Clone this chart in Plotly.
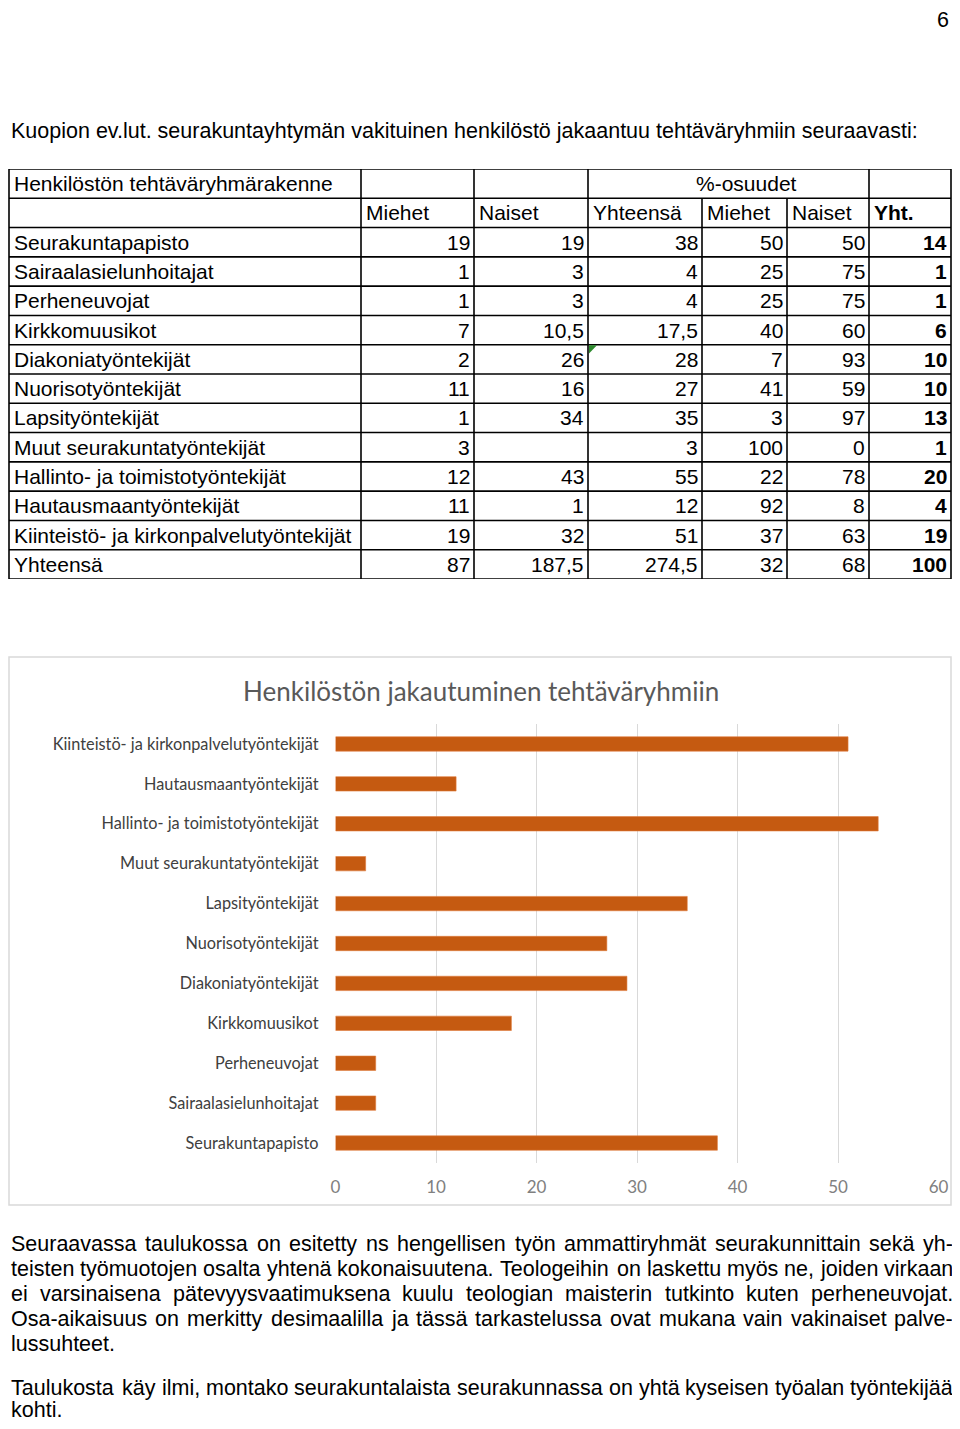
import plotly.graph_objects as go

# ---- table data ----
groups = [
    "Seurakuntapapisto", "Sairaalasielunhoitajat", "Perheneuvojat", "Kirkkomuusikot",
    "Diakoniatyöntekijät", "Nuorisotyöntekijät", "Lapsityöntekijät",
    "Muut seurakuntatyöntekijät", "Hallinto- ja toimistotyöntekijät",
    "Hautausmaantyöntekijät", "Kiinteistö- ja kirkonpalvelutyöntekijät", "Yhteensä",
]
miehet = ["19", "1", "1", "7", "2", "11", "1", "3", "12", "11", "19", "87"]
naiset = ["19", "3", "3", "10,5", "26", "16", "34", "", "43", "1", "32", "187,5"]
yhteensa = ["38", "4", "4", "17,5", "28", "27", "35", "3", "55", "12", "51", "274,5"]
miehet_pct = ["50", "25", "25", "40", "7", "41", "3", "100", "22", "92", "37", "32"]
naiset_pct = ["50", "75", "75", "60", "93", "59", "97", "0", "78", "8", "63", "68"]
yht_pct = ["14", "1", "1", "6", "10", "10", "13", "1", "20", "4", "19", "100"]
sub_headers = ["Miehet", "Naiset", "Yhteensä", "Miehet", "Naiset", "Yht."]

# ---- chart data (as drawn in the bar chart) ----
chart_groups = groups[:11]
chart_values = [38, 4, 4, 17.5, 29, 27, 35, 3, 54, 12, 51]
x_ticks = [0, 10, 20, 30, 40, 50, 60]

intro = "Kuopion ev.lut. seurakuntayhtymän vakituinen henkilöstö jakaantuu tehtäväryhmiin seuraavasti:"
para1 = [
    "Seuraavassa taulukossa on esitetty ns hengellisen työn ammattiryhmät seurakunnittain sekä yh-",
    "teisten työmuotojen osalta yhtenä kokonaisuutena. Teologeihin on laskettu myös ne, joiden virkaan",
    "ei varsinaisena pätevyysvaatimuksena kuulu teologian maisterin tutkinto kuten perheneuvojat.",
    "Osa-aikaisuus on merkitty desimaalilla ja tässä tarkastelussa ovat mukana vain vakinaiset palve-",
    "lussuhteet.",
]
para2 = [
    "Taulukosta käy ilmi, montako seurakuntalaista seurakunnassa on yhtä kyseisen työalan työntekijää",
    "kohti.",
]

# page is 960x1429; the plot sits inside the page's 8px body margin,
# so the figure is sized to the visible body box
PAGE_W, PAGE_H, OFF = 960, 1429, 8
W, H = PAGE_W - 2 * OFF, PAGE_H - 2 * OFF
LEFT, RIGHT = 9, 951  # usable page pixels
DOC_FONT = "Liberation Sans, Arial, sans-serif"
TABLE_SIZE = 21
PAGE_SIZE = 21.5
CHART_FONT = "Lato, Open Sans, sans-serif"
BAR_COLOR = "#C55A11"

# Arial / Liberation Sans advance widths (per 1000 em), used to justify paragraph lines
ARIAL = {" ": 278, ",": 278, ".": 278, "-": 333, ":": 278,
         "a": 556, "b": 556, "c": 500, "d": 556, "e": 556, "f": 278, "g": 556, "h": 556,
         "i": 222, "j": 222, "k": 500, "l": 222, "m": 833, "n": 556, "o": 556, "p": 556,
         "q": 556, "r": 333, "s": 500, "t": 278, "u": 556, "v": 500, "w": 722, "x": 500,
         "y": 500, "z": 500, "ä": 556, "ö": 556,
         "O": 778, "S": 667, "T": 611, "K": 667}


def px(x):
    """page pixel (from left) -> paper x"""
    return (x - OFF) / W


def py(y):
    """page pixel (from top) -> paper y"""
    return 1 - (y - OFF) / H


def text_width(s, size):
    return sum(ARIAL.get(c, 556) for c in s) * size / 1000


fig = go.Figure()

# ---- bar chart ----
fig.add_trace(go.Bar(
    y=chart_groups,
    x=chart_values,
    orientation="h",
    width=0.36,
    marker=dict(color=BAR_COLOR, line=dict(color="#E07A3A", width=0.6)),
    xaxis="x", yaxis="y",
    showlegend=False,
))

# ---- table (drawn on its own hidden axis: x in page px, y in row index) ----
col_edges = [LEFT, 361, 474, 588, 702, 787, 869, RIGHT]
n_rows = 2 + len(groups)
table_cols = [miehet, naiset, yhteensa, miehet_pct, naiset_pct, yht_pct]

line_style = dict(color="black", width=1.6)
for r in range(n_rows + 1):
    fig.add_shape(type="line", xref="x2", yref="y2",
                  x0=col_edges[0], x1=col_edges[-1], y0=r - 0.5, y1=r - 0.5, line=line_style)
for xe in col_edges:
    top = 0.5 if xe in (702, 787) else -0.5
    fig.add_shape(type="line", xref="x2", yref="y2",
                  x0=xe, x1=xe, y0=top, y1=n_rows - 0.5, line=line_style)

tab_text = dict(family=DOC_FONT, size=TABLE_SIZE, color="black")
tab_bold = dict(family=DOC_FONT, size=TABLE_SIZE, color="black", weight="bold")
doc_text = dict(family=DOC_FONT, size=PAGE_SIZE, color="black")


def cell(x, y, text, anchor, font):
    fig.add_annotation(x=x, y=y, xref="x2", yref="y2", text=text, showarrow=False,
                       xanchor=anchor, yanchor="middle", font=font)


cell(col_edges[0] + 3, 0, "Henkilöstön tehtäväryhmärakenne", "left", tab_text)
cell(746, 0, "%-osuudet", "center", tab_text)
for j, label in enumerate(sub_headers):
    cell(col_edges[j + 1] + 3, 1, label, "left", tab_bold if j == len(sub_headers) - 1 else tab_text)

for i, g in enumerate(groups):
    row = i + 2
    cell(col_edges[0] + 3, row, g, "left", tab_text)
    for j, col in enumerate(table_cols):
        if col[i] != "":
            cell(col_edges[j + 2] - 2, row, col[i], "right",
                 tab_bold if j == len(table_cols) - 1 else tab_text)

# small green marker seen in one cell
fig.add_shape(type="path", xref="x2", yref="y2",
              path="M 589 5.52 L 597 5.52 L 589 5.8 Z", fillcolor="#2E8B2E", line=dict(width=0))


# ---- page text ----
def page_text(x, y, text, anchor="left"):
    fig.add_annotation(x=px(x), y=py(y), xref="paper", yref="paper", text=text, showarrow=False,
                       xanchor=anchor, yanchor="middle", font=doc_text)


page_text(RIGHT, 20, "6", "right")
page_text(LEFT, 131, intro)


def add_paragraph(lines, top_px, left=LEFT, right=RIGHT, step=25):
    for k, line in enumerate(lines):
        y = top_px + step * k
        if k == len(lines) - 1:
            page_text(left, y, line)
            continue
        words = line.split(" ")
        widths = [text_width(w, PAGE_SIZE) for w in words]
        gap = (right - left - sum(widths)) / (len(words) - 1)
        x = left
        for w, wd in zip(words, widths):
            page_text(x, y, w)
            x += wd + gap


add_paragraph(para1, 1244)
add_paragraph(para2, 1388, step=22)

# ---- chart frame and title ----
fig.add_shape(type="rect", xref="paper", yref="paper",
              x0=px(LEFT), x1=px(RIGHT), y0=py(1205), y1=py(657),
              line=dict(color="#D9D9D9", width=1.5))
fig.add_annotation(x=px(481), y=py(691), xref="paper", yref="paper",
                   text="Henkilöstön jakautuminen tehtäväryhmiin", showarrow=False,
                   xanchor="center", yanchor="middle",
                   font=dict(family=CHART_FONT, size=26, color="#595959"))

fig.update_layout(
    width=W, height=H,
    margin=dict(l=0, r=0, t=0, b=0, autoexpand=False),
    paper_bgcolor="white",
    plot_bgcolor="white",
    xaxis=dict(
        domain=[px(335.5), px(938.5)],
        range=[0, 60],
        tickvals=x_ticks,
        showgrid=True, gridcolor="#D9D9D9", gridwidth=1.3,
        zeroline=False, showline=False,
        tickfont=dict(family=CHART_FONT, size=17, color="#808080"),
        ticks="", ticklabelstandoff=12,
        anchor="y", automargin=False,
    ),
    yaxis=dict(
        domain=[py(1163), py(724)],
        showgrid=False, zeroline=False, showline=False,
        tickfont=dict(family=CHART_FONT, size=16.3, color="#404040"),
        ticks="", ticklabelstandoff=16,
        anchor="x", automargin=False,
    ),
    xaxis2=dict(domain=[0, 1], range=[OFF, PAGE_W - OFF], visible=False, anchor="y2"),
    yaxis2=dict(domain=[py(579), py(169)], range=[n_rows - 0.5, -0.5], visible=False, anchor="x2"),
)

fig.write_html("out.html")
